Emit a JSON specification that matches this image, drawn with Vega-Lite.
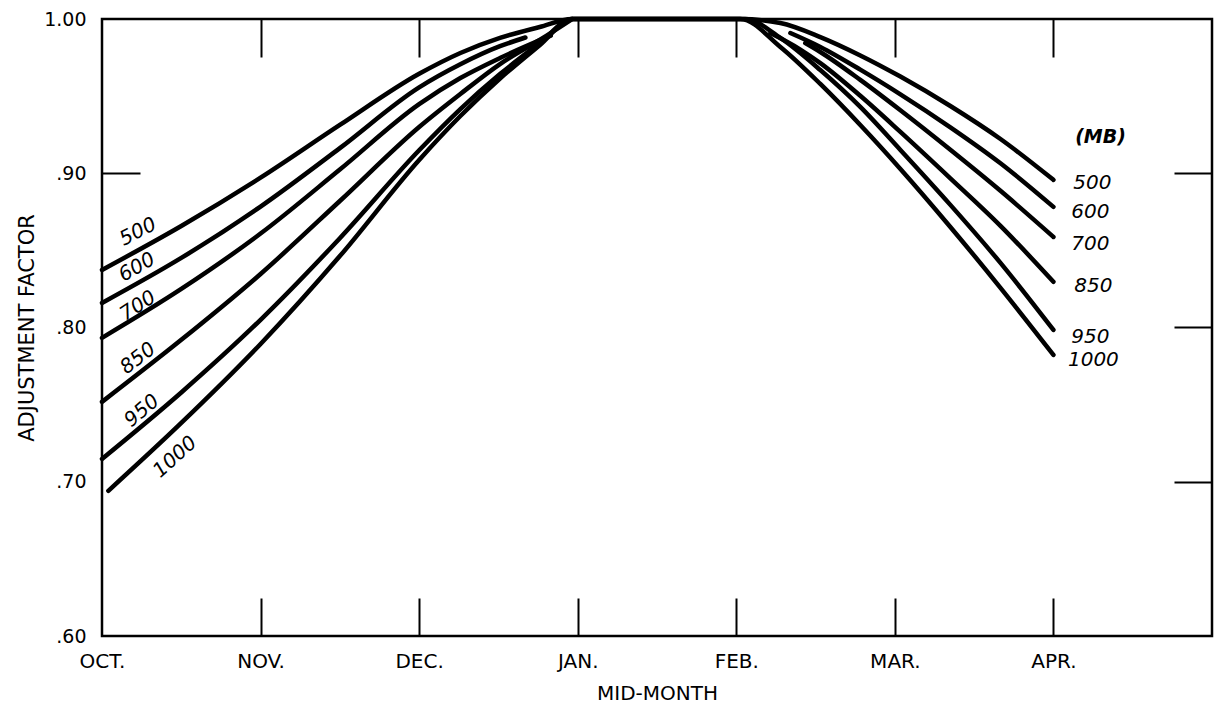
{
  "$schema": "https://vega.github.io/schema/vega-lite/v6.json",
  "autosize": {"type": "none"},
  "padding": {"left": 102, "top": 19, "right": 11, "bottom": 74},
  "width": 1110,
  "height": 617,
  "background": "white",
  "datasets": {
    "curves": [
      {"mb": "500", "part": "a", "m": 0, "v": 0.8373}, {"mb": "500", "part": "a", "m": 0.5, "v": 0.8658}, {"mb": "500", "part": "a", "m": 1.0, "v": 0.8971}, {"mb": "500", "part": "a", "m": 1.5, "v": 0.9313}, {"mb": "500", "part": "a", "m": 2.0, "v": 0.9645}, {"mb": "500", "part": "a", "m": 2.26, "v": 0.978}, {"mb": "500", "part": "a", "m": 2.51, "v": 0.9878}, {"mb": "500", "part": "a", "m": 2.76, "v": 0.9948}, {"mb": "500", "part": "a", "m": 2.965, "v": 1.0}, {"mb": "500", "part": "a", "m": 4.025, "v": 1.0}, {"mb": "500", "part": "a", "m": 4.278, "v": 0.9974}, {"mb": "500", "part": "a", "m": 4.53, "v": 0.9883}, {"mb": "500", "part": "a", "m": 4.782, "v": 0.9764}, {"mb": "500", "part": "a", "m": 5.035, "v": 0.9627}, {"mb": "500", "part": "a", "m": 5.35, "v": 0.9436}, {"mb": "500", "part": "a", "m": 5.666, "v": 0.9222}, {"mb": "500", "part": "a", "m": 6.0, "v": 0.8957},
      {"mb": "600", "part": "a", "m": 0, "v": 0.8159}, {"mb": "600", "part": "a", "m": 0.5, "v": 0.8451}, {"mb": "600", "part": "a", "m": 1.0, "v": 0.8784}, {"mb": "600", "part": "a", "m": 1.5, "v": 0.9163}, {"mb": "600", "part": "a", "m": 2.0, "v": 0.9557}, {"mb": "600", "part": "a", "m": 2.26, "v": 0.9707}, {"mb": "600", "part": "a", "m": 2.51, "v": 0.9824}, {"mb": "600", "part": "a", "m": 2.67, "v": 0.988},
      {"mb": "600", "part": "b", "m": 4.341, "v": 0.9909}, {"mb": "600", "part": "b", "m": 4.53, "v": 0.9819}, {"mb": "600", "part": "b", "m": 4.782, "v": 0.9672}, {"mb": "600", "part": "b", "m": 5.035, "v": 0.9512}, {"mb": "600", "part": "b", "m": 5.35, "v": 0.9298}, {"mb": "600", "part": "b", "m": 5.666, "v": 0.9065}, {"mb": "600", "part": "b", "m": 6.0, "v": 0.8782},
      {"mb": "700", "part": "a", "m": 0, "v": 0.7933}, {"mb": "700", "part": "a", "m": 0.5, "v": 0.825}, {"mb": "700", "part": "a", "m": 1.0, "v": 0.8609}, {"mb": "700", "part": "a", "m": 1.5, "v": 0.9024}, {"mb": "700", "part": "a", "m": 2.0, "v": 0.9448}, {"mb": "700", "part": "a", "m": 2.26, "v": 0.9617}, {"mb": "700", "part": "a", "m": 2.51, "v": 0.9747}, {"mb": "700", "part": "a", "m": 2.83, "v": 0.9892},
      {"mb": "700", "part": "b", "m": 4.435, "v": 0.9844}, {"mb": "700", "part": "b", "m": 4.53, "v": 0.9786}, {"mb": "700", "part": "b", "m": 4.782, "v": 0.9605}, {"mb": "700", "part": "b", "m": 5.035, "v": 0.9408}, {"mb": "700", "part": "b", "m": 5.35, "v": 0.9152}, {"mb": "700", "part": "b", "m": 5.666, "v": 0.8886}, {"mb": "700", "part": "b", "m": 6.0, "v": 0.8587},
      {"mb": "850", "part": "a", "m": 0, "v": 0.7518}, {"mb": "850", "part": "a", "m": 0.5, "v": 0.792}, {"mb": "850", "part": "a", "m": 1.0, "v": 0.8347}, {"mb": "850", "part": "a", "m": 1.5, "v": 0.882}, {"mb": "850", "part": "a", "m": 2.0, "v": 0.93}, {"mb": "850", "part": "a", "m": 2.26, "v": 0.9514}, {"mb": "850", "part": "a", "m": 2.51, "v": 0.9708}, {"mb": "850", "part": "a", "m": 2.76, "v": 0.9864}, {"mb": "850", "part": "a", "m": 2.965, "v": 1.0},
      {"mb": "850", "part": "b", "m": 4.215, "v": 0.9909}, {"mb": "850", "part": "b", "m": 4.404, "v": 0.9802}, {"mb": "850", "part": "b", "m": 4.53, "v": 0.9714}, {"mb": "850", "part": "b", "m": 4.782, "v": 0.9502}, {"mb": "850", "part": "b", "m": 5.035, "v": 0.9268}, {"mb": "850", "part": "b", "m": 5.35, "v": 0.8967}, {"mb": "850", "part": "b", "m": 5.666, "v": 0.8659}, {"mb": "850", "part": "b", "m": 6.0, "v": 0.8296},
      {"mb": "950", "part": "a", "m": 0, "v": 0.7148}, {"mb": "950", "part": "a", "m": 0.5, "v": 0.7579}, {"mb": "950", "part": "a", "m": 1.0, "v": 0.805}, {"mb": "950", "part": "a", "m": 1.5, "v": 0.8579}, {"mb": "950", "part": "a", "m": 2.0, "v": 0.9149}, {"mb": "950", "part": "a", "m": 2.26, "v": 0.9416}, {"mb": "950", "part": "a", "m": 2.51, "v": 0.9643}, {"mb": "950", "part": "a", "m": 2.76, "v": 0.9843}, {"mb": "950", "part": "a", "m": 2.965, "v": 1.0}, {"mb": "950", "part": "a", "m": 4.057, "v": 1.0}, {"mb": "950", "part": "a", "m": 4.278, "v": 0.9877}, {"mb": "950", "part": "a", "m": 4.53, "v": 0.9669}, {"mb": "950", "part": "a", "m": 4.782, "v": 0.943}, {"mb": "950", "part": "a", "m": 5.035, "v": 0.9151}, {"mb": "950", "part": "a", "m": 5.35, "v": 0.8795}, {"mb": "950", "part": "a", "m": 5.666, "v": 0.8419}, {"mb": "950", "part": "a", "m": 6.0, "v": 0.7984},
      {"mb": "1000", "part": "a", "m": 0.04, "v": 0.6941}, {"mb": "1000", "part": "a", "m": 0.5, "v": 0.7381}, {"mb": "1000", "part": "a", "m": 1.0, "v": 0.7893}, {"mb": "1000", "part": "a", "m": 1.5, "v": 0.8463}, {"mb": "1000", "part": "a", "m": 2.0, "v": 0.9086}, {"mb": "1000", "part": "a", "m": 2.26, "v": 0.9371}, {"mb": "1000", "part": "a", "m": 2.51, "v": 0.9614}, {"mb": "1000", "part": "a", "m": 2.76, "v": 0.983}, {"mb": "1000", "part": "a", "m": 2.965, "v": 1.0}, {"mb": "1000", "part": "a", "m": 4.025, "v": 1.0}, {"mb": "1000", "part": "a", "m": 4.278, "v": 0.9819}, {"mb": "1000", "part": "a", "m": 4.53, "v": 0.9579}, {"mb": "1000", "part": "a", "m": 4.782, "v": 0.9313}, {"mb": "1000", "part": "a", "m": 5.035, "v": 0.9028}, {"mb": "1000", "part": "a", "m": 5.35, "v": 0.8652}, {"mb": "1000", "part": "a", "m": 5.666, "v": 0.8257}, {"mb": "1000", "part": "a", "m": 6.0, "v": 0.7822}
    ],
    "leftLabels": [
      {"mb": 500, "m": 0.227, "v": 0.862},
      {"mb": 600, "m": 0.221, "v": 0.839},
      {"mb": 700, "m": 0.227, "v": 0.814},
      {"mb": 850, "m": 0.227, "v": 0.78},
      {"mb": 950, "m": 0.252, "v": 0.746},
      {"mb": 1000, "m": 0.461, "v": 0.716}
    ],
    "rightLabels": [
      {"label": "500", "m": 6.246, "v": 0.8937},
      {"label": "600", "m": 6.233, "v": 0.8749},
      {"label": "700", "m": 6.233, "v": 0.8542},
      {"label": "850", "m": 6.252, "v": 0.827},
      {"label": "950", "m": 6.233, "v": 0.7939},
      {"label": "1000", "m": 6.252, "v": 0.779}
    ],
    "unitLabel": [
      {"label": "(MB)", "m": 6.297, "v": 0.9235}
    ]
  },
  "layer": [
    {
      "data": {"name": "curves"},
      "mark": {"type": "line", "color": "black", "strokeWidth": 4.5, "interpolate": "monotone", "strokeCap": "round", "strokeJoin": "round"},
      "encoding": {
        "x": {"field": "m", "type": "quantitative", "scale": {"domain": [0, 7], "nice": false, "zero": false},
          "axis": {"orient": "bottom", "values": [0, 1, 2, 3, 4, 5, 6], "labelExpr": "['OCT.','NOV.','DEC.','JAN.','FEB.','MAR.','APR.'][datum.value]", "ticks": false, "domain": false, "grid": false, "labelFlush": false, "labelOverlap": false, "labelPadding": 15, "labelFontSize": 20, "title": "MID-MONTH", "titleFontSize": 20, "titlePadding": 12}},
        "y": {"field": "v", "type": "quantitative", "scale": {"domain": [0.6, 1.0], "nice": false, "zero": false},
          "axis": {"orient": "left", "values": [0.6, 0.7, 0.8, 0.9, 1.0], "labelExpr": "datum.value > 0.99 ? '1.00' : '.' + format(datum.value * 100, '.0f')", "ticks": false, "domain": false, "grid": false, "labelFlush": false, "labelOverlap": false, "labelPadding": 16, "labelFontSize": 19, "title": "ADJUSTMENT FACTOR", "titleFontSize": 21, "titlePadding": 6}},
        "detail": [{"field": "mb"}, {"field": "part"}]
      }
    },
    {
      "data": {"name": "leftLabels"},
      "mark": {"type": "text", "fontSize": 20, "fontStyle": "italic", "align": "center", "baseline": "middle", "color": "black"},
      "encoding": {
        "x": {"field": "m", "type": "quantitative",
          "axis": {"orient": "bottom", "values": [1, 2, 3, 4, 5, 6], "labels": false, "ticks": true, "tickSize": -38, "tickWidth": 2, "tickColor": "black", "domain": false, "grid": false, "title": null}},
        "y": {"field": "v", "type": "quantitative",
          "axis": {"orient": "left", "values": [0.9], "labels": false, "ticks": true, "tickSize": -38, "tickWidth": 2, "tickColor": "black", "domain": false, "grid": false, "title": null}},
        "text": {"field": "mb", "type": "nominal"},
        "angle": {"field": "mb", "type": "quantitative", "scale": {"domain": [500, 1000], "range": [333, 318]}, "legend": null}
      }
    },
    {
      "data": {"name": "rightLabels"},
      "mark": {"type": "text", "fontSize": 20, "fontStyle": "italic", "align": "center", "baseline": "middle", "color": "black"},
      "encoding": {
        "x": {"field": "m", "type": "quantitative",
          "axis": {"orient": "top", "values": [1, 2, 3, 4, 5, 6], "labels": false, "ticks": true, "tickSize": -38, "tickWidth": 2, "tickColor": "black", "domain": false, "grid": false, "title": null}},
        "y": {"field": "v", "type": "quantitative",
          "axis": {"orient": "right", "values": [0.7, 0.8, 0.9], "labels": false, "ticks": true, "tickSize": -38, "tickWidth": 2, "tickColor": "black", "domain": false, "grid": false, "title": null}},
        "text": {"field": "label", "type": "nominal"}
      }
    },
    {
      "data": {"name": "unitLabel"},
      "mark": {"type": "text", "fontSize": 19, "fontStyle": "italic", "fontWeight": "bold", "align": "center", "baseline": "middle", "color": "black"},
      "encoding": {
        "x": {"field": "m", "type": "quantitative", "axis": null},
        "y": {"field": "v", "type": "quantitative", "axis": null},
        "text": {"field": "label", "type": "nominal"}
      }
    }
  ],
  "resolve": {"axis": {"x": "independent", "y": "independent"}},
  "config": {
    "view": {"stroke": "black", "strokeWidth": 2.5},
    "font": "DejaVu Sans",
    "axis": {"labelFont": "DejaVu Sans", "titleFont": "DejaVu Sans", "labelColor": "black", "titleColor": "black", "titleFontWeight": "normal", "labelFontWeight": "normal"},
    "text": {"font": "DejaVu Sans"}
  }
}
